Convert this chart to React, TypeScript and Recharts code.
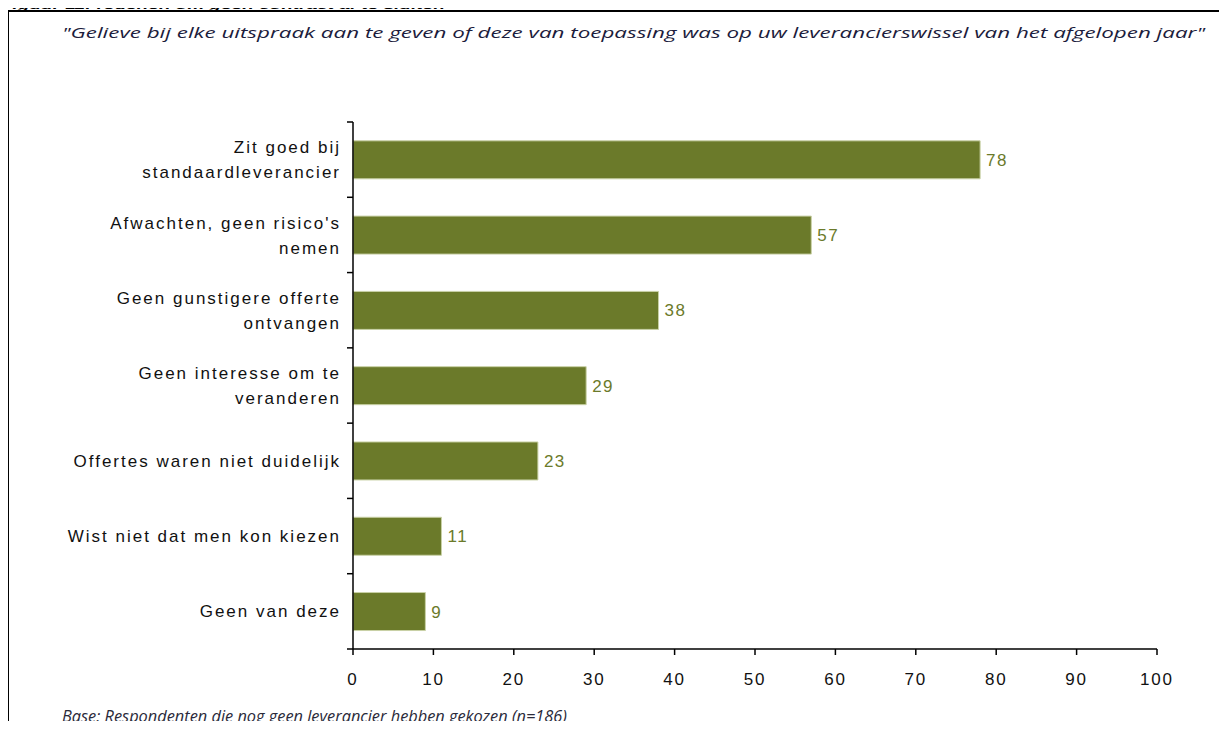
import React from 'react';
import { BarChart, Bar, XAxis, YAxis, LabelList } from 'recharts';

const categories: string[] = [
  'Zit goed bij\nstandaardleverancier',
  "Afwachten, geen risico's\nnemen",
  'Geen gunstigere offerte\nontvangen',
  'Geen interesse om te\nveranderen',
  'Offertes waren niet duidelijk',
  'Wist niet dat men kon kiezen',
  'Geen van deze',
];
const values: number[] = [78, 57, 38, 29, 23, 11, 9];
const xTicks: number[] = [0, 10, 20, 30, 40, 50, 60, 70, 80, 90, 100];

const titleText = 'Figuur 11: redenen om geen contract af te sluiten';
const subtitleText =
  '"Gelieve bij elke uitspraak aan te geven of deze van toepassing was op uw leverancierswissel van het afgelopen jaar"';
const footerText = 'Base: Respondenten die nog geen leverancier hebben gekozen (n=186)';

const data = categories.map((name, i) => ({ name, value: values[i] }));

const BAR_COLOR = '#6B7A2A';
const LABEL_FONT = '"Liberation Sans", Arial, sans-serif';

const YTick = (props: any) => {
  const { x, y, payload, index, visibleTicksCount } = props;
  const half =
    payload && typeof payload.offset === 'number' && payload.offset > 0 ? payload.offset : 37.6;
  const lines = String(payload.value).split('\n');
  const lh = 25;
  const startY = y - ((lines.length - 1) * lh) / 2;
  return (
    <g>
      <line x1={x - 6} x2={x} y1={y - half} y2={y - half} stroke="#000" strokeWidth={1.5} />
      {index === visibleTicksCount - 1 && (
        <line x1={x - 6} x2={x} y1={y + half} y2={y + half} stroke="#000" strokeWidth={1.5} />
      )}
      {lines.map((l, i) => (
        <text
          key={i}
          x={x - 12}
          y={startY + i * lh}
          dy="0.36em"
          textAnchor="end"
          fill="#111"
          fontFamily={LABEL_FONT}
          fontSize={17}
          letterSpacing={2.0}
        >
          {l}
        </text>
      ))}
    </g>
  );
};

const XTick = (props: any) => {
  const { x, y, payload } = props;
  return (
    <text
      x={x}
      y={y}
      dy={28}
      textAnchor="middle"
      fill="#111"
      fontFamily={LABEL_FONT}
      fontSize={17}
      letterSpacing={1.8}
    >
      {payload.value}
    </text>
  );
};

export default function App() {
  return (
    <div
      style={{
        position: 'relative',
        width: 1227,
        height: 729,
        margin: -8,
        background: '#fff',
        overflow: 'hidden',
      }}
    >
      <svg
        width={1227}
        height={729}
        style={{ position: 'absolute', left: 0, top: 0, pointerEvents: 'none' }}
      >
        <text
          x={1}
          y={9}
          fontFamily={LABEL_FONT}
          fontWeight="bold"
          fontStyle="italic"
          fontSize={11}
          fill="#000"
          textLength={444}
          lengthAdjust="spacingAndGlyphs"
        >
          {titleText}
        </text>
        <rect x={8} y={11} width={1300} height={800} fill="none" stroke="#000" strokeWidth={2} />
        <text
          x={62}
          y={38}
          fontFamily='"Open Sans", sans-serif'
          fontStyle="italic"
          fontSize={15}
          fill="#1c1c3c"
          textLength={1143}
          lengthAdjust="spacingAndGlyphs"
        >
          {subtitleText}
        </text>
        <text
          x={62}
          y={722}
          fontFamily='"Open Sans", sans-serif'
          fontStyle="italic"
          fontSize={16}
          fill="#2a2a3a"
          textLength={505}
          lengthAdjust="spacingAndGlyphs"
        >
          {footerText}
        </text>
      </svg>
      <div style={{ position: 'absolute', left: 0, top: 0 }}>
        <BarChart
          width={1227}
          height={729}
          data={data}
          layout="vertical"
          margin={{ top: 122, right: 70, bottom: 50, left: 0 }}
          barCategoryGap="25%"
        >
          <XAxis
            type="number"
            domain={[0, 100]}
            ticks={xTicks}
            height={30}
            tickSize={6}
            tickLine={{ stroke: '#000', strokeWidth: 1.5 }}
            axisLine={{ stroke: '#000', strokeWidth: 1.5 }}
            tick={<XTick />}
            interval={0}
          />
          <YAxis
            type="category"
            dataKey="name"
            width={353}
            tickSize={0}
            tickMargin={0}
            tickLine={false}
            axisLine={{ stroke: '#000', strokeWidth: 1.5 }}
            tick={<YTick />}
            interval={0}
          />
          <Bar dataKey="value" fill={BAR_COLOR} stroke="#c9d1a6" strokeWidth={1} isAnimationActive={false}>
            <LabelList
              dataKey="value"
              position="right"
              offset={6}
              fill={BAR_COLOR}
              fontFamily={LABEL_FONT}
              fontSize={17}
              letterSpacing={1.5}
            />
          </Bar>
        </BarChart>
      </div>
    </div>
  );
}
